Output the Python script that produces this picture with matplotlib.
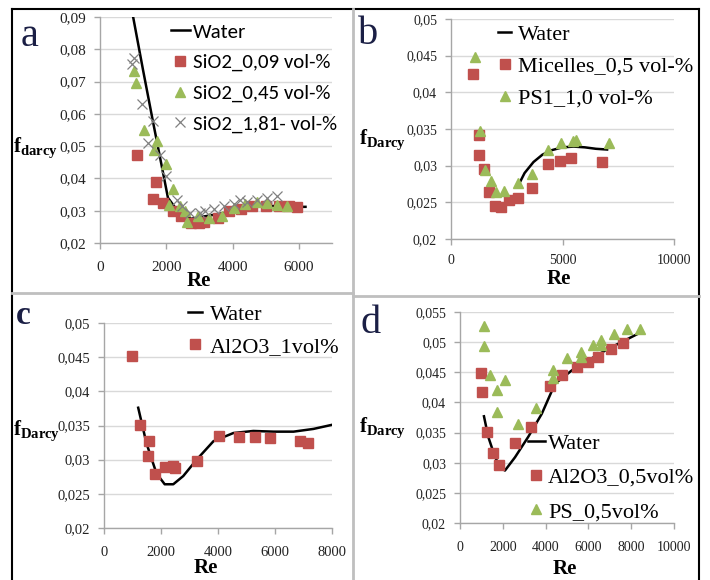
import matplotlib
matplotlib.use("Agg")
import matplotlib.pyplot as plt
from matplotlib.lines import Line2D

# ---------------- data ----------------
# panel a
a_water_re = [1000, 1300, 1600, 1850, 2050, 2300, 2550, 2750, 3000, 3300, 3700, 4100, 4600, 5100, 5600, 6000, 6200]
a_water_f = [0.090, 0.0735, 0.0575, 0.0445, 0.0340, 0.0305, 0.0285, 0.0275, 0.0280, 0.0285, 0.0292, 0.0302, 0.0312, 0.0315, 0.0314, 0.0312, 0.0312]
a_s009_re = [1130, 1610, 1690, 1910, 2200, 2450, 2750, 3000, 3150, 3550, 3900, 4250, 4600, 5000, 5400, 5700, 5950]
a_s009_f = [0.0472, 0.0336, 0.0388, 0.0324, 0.0298, 0.0285, 0.0262, 0.0262, 0.0265, 0.0278, 0.0300, 0.0306, 0.0314, 0.0316, 0.0316, 0.0315, 0.0311]
a_s045_re = [1040, 1080, 1340, 1630, 1710, 1990, 2070, 2200, 2420, 2570, 2640, 2950, 3280, 3680, 4030, 4390, 4740, 5040, 5340, 5630]
a_s045_f = [0.0732, 0.0696, 0.0551, 0.0487, 0.0515, 0.0446, 0.0318, 0.0367, 0.0315, 0.0298, 0.0265, 0.0283, 0.0277, 0.0285, 0.0308, 0.0322, 0.0326, 0.0324, 0.0319, 0.0316]
a_s181_re = [980, 1030, 1260, 1460, 1590, 1810, 1990, 2320, 2470, 2720, 3020, 3180, 3430, 3730, 4030, 4230, 4450, 4740, 5040, 5340]
a_s181_f = [0.0754, 0.0773, 0.0631, 0.0510, 0.0577, 0.0474, 0.0409, 0.0334, 0.0316, 0.0293, 0.0292, 0.0298, 0.0304, 0.0314, 0.0322, 0.0334, 0.0328, 0.0334, 0.0338, 0.0345]

# panel b
b_water_re = [3000, 3300, 3700, 4100, 4500, 5000, 5500, 6000, 6500, 7000]
b_water_f = [0.0272, 0.0290, 0.0305, 0.0315, 0.0321, 0.0325, 0.0326, 0.0325, 0.0323, 0.0322]
b_mic_re = [1000, 1260, 1260, 1500, 1710, 1980, 2230, 2620, 2990, 3620, 4340, 4900, 5390, 6770]
b_mic_f = [0.0425, 0.0342, 0.0314, 0.0295, 0.0264, 0.0245, 0.0244, 0.0253, 0.0256, 0.0269, 0.0302, 0.0307, 0.0311, 0.0305]
b_ps1_re = [1080, 1300, 1530, 1780, 2020, 2370, 2990, 3650, 4340, 4930, 5450, 5600, 7100]
b_ps1_f = [0.0448, 0.0347, 0.0294, 0.0279, 0.0264, 0.0266, 0.0276, 0.0289, 0.0322, 0.0331, 0.0334, 0.0335, 0.0331]

# panel c
c_water_re = [1200, 1490, 1840, 2130, 2430, 2780, 3250, 3840, 4540, 5240, 5950, 6650, 7350, 8000]
c_water_f = [0.0376, 0.0324, 0.0280, 0.0264, 0.0264, 0.0276, 0.0300, 0.0327, 0.0339, 0.0342, 0.0341, 0.0341, 0.0345, 0.0351]
c_al_re = [985, 1270, 1570, 1540, 1800, 2140, 2430, 2490, 3270, 4050, 4720, 5300, 5830, 6890, 7150]
c_al_f = [0.0452, 0.0351, 0.0328, 0.0305, 0.0279, 0.0290, 0.0291, 0.0288, 0.0298, 0.0334, 0.0333, 0.0333, 0.0331, 0.0328, 0.0325]

# panel d
d_water_re = [1120, 1320, 1640, 1900, 2100, 2570, 3190, 3820, 4440, 5220, 6000, 6930, 7710, 8490]
d_water_f = [0.0377, 0.0343, 0.0309, 0.0292, 0.0287, 0.0309, 0.0343, 0.0381, 0.0431, 0.0453, 0.0470, 0.0489, 0.0503, 0.0517]
d_al_re = [980, 1010, 1280, 1560, 1820, 2570, 3320, 4210, 4780, 5450, 6000, 6470, 7060, 7630]
d_al_f = [0.0448, 0.0417, 0.0351, 0.0316, 0.0296, 0.0332, 0.0359, 0.0428, 0.0445, 0.0459, 0.0467, 0.0475, 0.0489, 0.0499]
d_ps_re = [1120, 1120, 1400, 1745, 1745, 2100, 2730, 3550, 4360, 4360, 4990, 5640, 5640, 6230, 6580, 6580, 7210, 7790, 8410]
d_ps_f = [0.0526, 0.0493, 0.0445, 0.0421, 0.0384, 0.0437, 0.0365, 0.0390, 0.0453, 0.0441, 0.0473, 0.0484, 0.0475, 0.0495, 0.0504, 0.0495, 0.0514, 0.0521, 0.0522]

# ---------------- style ----------------
RED = "#C0504D"
GREEN = "#9BBB59"
GRAY = "#808080"
GRID = "#D9D9D9"
SPINE = "#A6A6A6"
SERIF = ["Liberation Serif", "DejaVu Serif"]
SANS = ["Carlito", "Lato", "DejaVu Sans"]

plt.rcParams["mathtext.fontset"] = "custom"
plt.rcParams["mathtext.rm"] = "Liberation Serif"
plt.rcParams["mathtext.bf"] = "Liberation Serif:bold"

W, H = 710, 580
fig = plt.figure(figsize=(W / 100, H / 100), dpi=100)


def fx(x):
    return x / W


def fy(y):
    return 1 - y / H


def make_ax(l, r, t, b):
    return fig.add_axes([fx(l), fy(b), fx(r) - fx(l), fy(t) - fy(b)])


def style(ax, xlim, xticks, ylim, yticks, ylabels, fs, xpad=9):
    ax.set_xlim(*xlim)
    ax.set_ylim(*ylim)
    ax.set_xticks(xticks)
    ax.set_xticklabels([str(v) for v in xticks], fontfamily=SERIF, fontsize=fs)
    ax.set_yticks(yticks)
    ax.set_yticklabels(ylabels, fontfamily=SERIF, fontsize=fs)
    for s in ["top", "right"]:
        ax.spines[s].set_visible(False)
    for s in ["left", "bottom"]:
        ax.spines[s].set_color(SPINE)
        ax.spines[s].set_linewidth(1.0)
    ax.tick_params(direction="out", length=4, color=SPINE, width=1.0, labelcolor="#222222")
    ax.tick_params(axis="y", pad=6)
    ax.tick_params(axis="x", pad=xpad)
    ax.yaxis.grid(True, color=GRID, linewidth=1.0)
    ax.set_axisbelow(True)
    ax.patch.set_alpha(0)


sq = dict(marker="s", linestyle="none", color=RED, markersize=7)
tri = dict(marker="^", linestyle="none", color=GREEN, markersize=7.5)
crs = dict(marker="x", linestyle="none", color=GRAY, markersize=7.5, markeredgewidth=0.9)
wl = dict(color="black", linewidth=1.8)

# ---------- panel a ----------
axa = make_ax(100, 332, 17, 243)
style(axa, (0, 7000), [0, 2000, 4000, 6000], (0.02, 0.09),
      [0.02, 0.03, 0.04, 0.05, 0.06, 0.07, 0.08, 0.09],
      ["0,02", "0,03", "0,04", "0,05", "0,06", "0,07", "0,08", "0,09"], 11)
axa.plot(a_water_re, a_water_f, **wl, clip_on=True)
axa.plot(a_s009_re, a_s009_f, **sq)
axa.plot(a_s045_re, a_s045_f, **tri)
axa.plot(a_s181_re, a_s181_f, **crs)
ha = [Line2D([], [], **wl), Line2D([], [], **sq), Line2D([], [], **tri), Line2D([], [], **crs)]
axa.legend(ha, ["Water", "SiO2_0,09 vol-%", "SiO2_0,45 vol-%", "SiO2_1,81- vol-%"],
           loc="upper left", bbox_to_anchor=(fx(171), fy(23)), bbox_transform=fig.transFigure,
           frameon=False, borderpad=0, borderaxespad=0, handlelength=0.9, handletextpad=0.15,
           labelspacing=0.62, prop=dict(family=SANS, size=15))

# ---------- panel b ----------
axb = make_ax(451, 674, 19, 239)
style(axb, (0, 10000), [0, 5000, 10000], (0.02, 0.05),
      [0.02, 0.025, 0.03, 0.035, 0.04, 0.045, 0.05],
      ["0,02", "0,025", "0,03", "0,035", "0,04", "0,045", "0,05"], 10, xpad=7)
axb.plot(b_water_re, b_water_f, **wl)
axb.plot(b_mic_re, b_mic_f, **sq)
axb.plot(b_ps1_re, b_ps1_f, **tri)
hb = [Line2D([], [], **wl), Line2D([], [], **sq), Line2D([], [], **tri)]
axb.legend(hb, ["Water", "Micelles_0,5 vol-%", "PS1_1,0 vol-%"],
           loc="upper left", bbox_to_anchor=(fx(498), fy(24)), bbox_transform=fig.transFigure,
           frameon=False, borderpad=0, borderaxespad=0, handlelength=0.6, handletextpad=0.3,
           labelspacing=0.52, prop=dict(family=SERIF, size=16))

# ---------- panel c ----------
axc = make_ax(104, 332, 323, 528)
style(axc, (0, 8000), [0, 2000, 4000, 6000, 8000], (0.02, 0.05),
      [0.02, 0.025, 0.03, 0.035, 0.04, 0.045, 0.05],
      ["0,02", "0,025", "0,03", "0,035", "0,04", "0,045", "0,05"], 10.5)
axc.plot(c_water_re, c_water_f, **wl)
axc.plot(c_al_re, c_al_f, **sq)
hc = [Line2D([], [], **wl), Line2D([], [], **sq)]
axc.legend(hc, ["Water", "Al2O3_1vol%"],
           loc="upper left", bbox_to_anchor=(fx(188), fy(304)), bbox_transform=fig.transFigure,
           frameon=False, borderpad=0, borderaxespad=0, handlelength=0.65, handletextpad=0.35,
           labelspacing=0.52, prop=dict(family=SERIF, size=16))

# ---------- panel d ----------
axd = make_ax(460, 674, 312, 523)
style(axd, (0, 10000), [0, 2000, 4000, 6000, 8000, 10000], (0.02, 0.055),
      [0.02, 0.025, 0.03, 0.035, 0.04, 0.045, 0.05, 0.055],
      ["0,02", "0,025", "0,03", "0,035", "0,04", "0,045", "0,05", "0,055"], 10)
axd.plot(d_water_re, d_water_f, **wl)
axd.plot(d_al_re, d_al_f, **sq)
axd.plot(d_ps_re, d_ps_f, **tri)
hd = [Line2D([], [], **wl), Line2D([], [], **sq), Line2D([], [], **tri)]
axd.legend(hd, ["Water", "Al2O3_0,5vol%", "PS_0,5vol%"],
           loc="upper left", bbox_to_anchor=(fx(528), fy(433)), bbox_transform=fig.transFigure,
           frameon=False, borderpad=0, borderaxespad=0, handlelength=0.75, handletextpad=0.15,
           labelspacing=0.62, prop=dict(family=SERIF, size=16))

# ---------- x labels ----------
for (x, y) in [(199, 281), (559, 279), (206, 568), (565, 569)]:
    fig.text(fx(x), fy(y), "Re", ha="center", va="center", fontfamily=SERIF,
             fontweight="bold", fontsize=15)

# ---------- y labels ----------
fig.text(fx(13), fy(148), r"$\mathbf{f}_{\mathbf{darcy}}$", ha="left", va="center", fontsize=15)
fig.text(fx(359), fy(140), r"$\mathbf{f}_{\mathbf{Darcy}}$", ha="left", va="center", fontsize=15)
fig.text(fx(13), fy(431), r"$\mathbf{f}_{\mathbf{Darcy}}$", ha="left", va="center", fontsize=15)
fig.text(fx(359), fy(428), r"$\mathbf{f}_{\mathbf{Darcy}}$", ha="left", va="center", fontsize=15)

# ---------- panel letters ----------
LET = "#1b1f45"
fig.text(fx(21), fy(46), "a", ha="left", va="baseline", fontfamily=SERIF, fontsize=29, color=LET)
fig.text(fx(358), fy(44), "b", ha="left", va="baseline", fontfamily=SERIF, fontsize=29, color=LET)
fig.text(fx(16), fy(324), "c", ha="left", va="baseline", fontfamily=SERIF, fontsize=24,
         fontweight="bold", color=LET)
fig.text(fx(361), fy(333), "d", ha="left", va="baseline", fontfamily=SERIF, fontsize=29, color=LET)

# ---------- frame and dividers ----------
frame = dict(transform=fig.transFigure, color="black", linewidth=1.5)
fig.add_artist(Line2D([fx(12), fx(699)], [fy(9), fy(9)], **frame))
fig.add_artist(Line2D([fx(12), fx(12)], [fy(9), fy(585)], **frame))
fig.add_artist(Line2D([fx(699), fx(699)], [fy(9), fy(585)], **frame))
div = dict(transform=fig.transFigure, color="#BFBFBF", linewidth=2.0)
fig.add_artist(Line2D([fx(353), fx(353)], [fy(9), fy(585)], **div))
fig.add_artist(Line2D([fx(12), fx(353)], [fy(293), fy(293)], **div))
fig.add_artist(Line2D([fx(353), fx(699)], [fy(296), fy(296)], **div))

fig.savefig("out.png", dpi=100)
